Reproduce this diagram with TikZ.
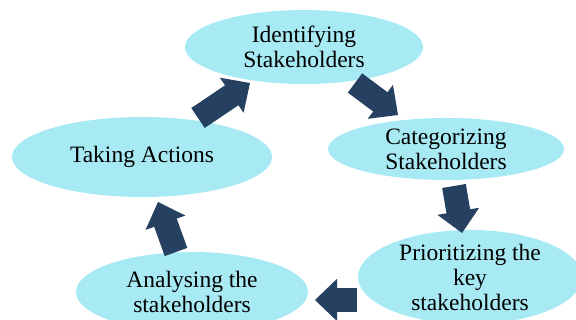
\documentclass[tikz,border=0pt]{standalone}
\usepackage{fontspec}
\setmainfont{Liberation Serif}
\usetikzlibrary{shapes.geometric,arrows.meta}
\definecolor{stagefill}{RGB}{168,234,244}
\definecolor{flowblue}{RGB}{37,64,97}
\begin{document}
\begin{tikzpicture}[x=1pt,y=1pt,
    stage/.style={ellipse, fill=stagefill, inner sep=0pt, align=center,
      font=\fontsize{23.5}{25}\selectfont},
    flow/.style={draw=flowblue, line width=24pt,
      -{Triangle[width=42pt,length=22pt,line width=1.5pt]}}]
  \useasboundingbox (0,0) rectangle (576,320);
  \clip (0,0) rectangle (576,320);
  % the five steps
  \node[stage, minimum width=238pt, minimum height=74pt] (ident) at (304,273) {Identifying\\Stakeholders};
  \node[stage, minimum width=236pt, minimum height=62pt] (categ) at (446,171) {Categorizing\\Stakeholders};
  \node[stage, minimum width=224pt, minimum height=90pt] (prior) at (470,43) {Prioritizing the\\key\\stakeholders};
  \node[stage, minimum width=232pt, minimum height=80pt] (analy) at (192,28) {Analysing the\\stakeholders};
  \node[stage, minimum width=260pt, minimum height=80pt] (action) at (142,163) {Taking Actions};
  % block arrows between them
  \coordinate (a1) at (198,202);  \coordinate (b1) at (250,237);
  \coordinate (a2) at (355,237);  \coordinate (b2) at (398,205);
  \coordinate (a3) at (454,134);  \coordinate (b3) at (462,87);
  \coordinate (a4) at (357,20);   \coordinate (b4) at (315,20);
  \coordinate (a5) at (176,68);   \coordinate (b5) at (158,118);
  \draw[flow] (a1) -- (b1);
  \draw[flow] (a2) -- (b2);
  \draw[flow] (a3) -- (b3);
  \draw[flow] (a4) -- (b4);
  \draw[flow] (a5) -- (b5);
\end{tikzpicture}
\end{document}
